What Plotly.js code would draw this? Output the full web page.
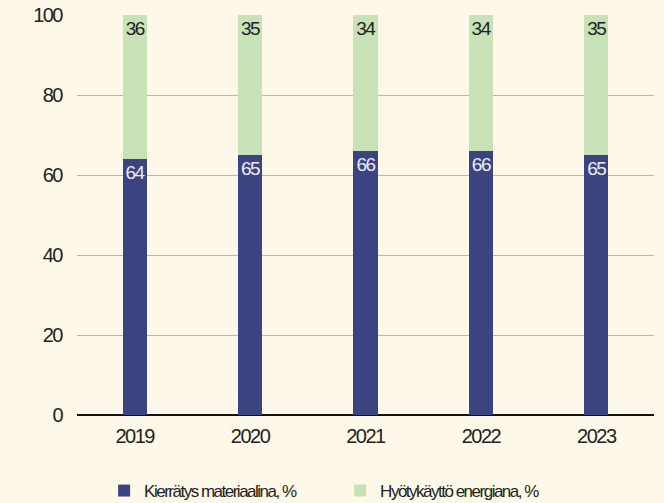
<!DOCTYPE html>
<html>
<head>
<meta charset="utf-8">
<script src="https://cdn.plot.ly/plotly-3.0.1.min.js"></script>
<style>
  html, body { margin: 0; padding: 0; background: #fdf8e7; }
  #chart { width: 664px; height: 503px; }
  /* tight, condensed-looking lettering */
  #chart .main-svg text { letter-spacing: -1.5px; }
  /* larger legend swatches: widen the swatch outline (same colour as fill) */
  #chart .legend .legendpoints path { stroke-width: 3px !important; }
</style>
</head>
<body>
<div id="chart"></div>
<script>
// Years on the x axis
const years = ['2019', '2020', '2021', '2022', '2023'];
// Share recycled as material, %
const materialShare = [64, 65, 66, 66, 65];
// Share recovered as energy, %
const energyShare = [36, 35, 34, 34, 35];
// Series names
const seriesNames = ['Kierrätys materiaalina, %', 'Hyötykäyttö energiana, %'];
// Y axis ticks
const yTicks = [0, 20, 40, 60, 80, 100];

const FONT = '"Liberation Sans", Arial, sans-serif';
const BLUE = '#3b4381';
const GREEN = '#c8e2b7';
const INK = '#222222';

const traces = [
  {
    type: 'bar',
    name: seriesNames[0],
    x: years,
    y: materialShare,
    text: materialShare.map(String),
    textposition: 'inside',
    insidetextanchor: 'end',
    textangle: 0,
    textfont: { family: FONT, size: 19, color: '#ecebf3' },
    marker: { color: BLUE, line: { color: BLUE, width: 0 } },
    hoverinfo: 'skip'
  },
  {
    type: 'bar',
    name: seriesNames[1],
    x: years,
    y: energyShare,
    text: energyShare.map(String),
    textposition: 'inside',
    insidetextanchor: 'end',
    textangle: 0,
    textfont: { family: FONT, size: 19, color: INK },
    marker: { color: GREEN, line: { color: GREEN, width: 0 } },
    hoverinfo: 'skip'
  }
];

const layout = {
  width: 664,
  height: 503,
  margin: { l: 77, r: 10, t: 15, b: 88, autoexpand: false },
  paper_bgcolor: '#fdf8e7',
  plot_bgcolor: '#fdf8e7',
  barmode: 'stack',
  bargap: 0.79,
  uniformtext: { mode: 'show', minsize: 19 },
  font: { family: FONT, size: 20, color: INK },
  showlegend: true,
  legend: {
    orientation: 'h',
    traceorder: 'normal',
    x: 0.047,
    xanchor: 'left',
    y: -0.145,
    yanchor: 'top',
    entrywidth: 191,
    entrywidthmode: 'pixels',
    font: { family: FONT, size: 17, color: INK },
    bgcolor: 'rgba(0,0,0,0)'
  },
  xaxis: {
    type: 'category',
    showgrid: false,
    zeroline: false,
    showline: false,
    ticks: '',
    ticklabelstandoff: 7,
    tickfont: { family: FONT, size: 20, color: INK },
    fixedrange: true
  },
  yaxis: {
    range: [0, 100],
    tickvals: yTicks,
    ticktext: yTicks.map(String),
    showgrid: true,
    gridcolor: '#bdb6a7',
    gridwidth: 1,
    zeroline: true,
    zerolinecolor: '#111111',
    zerolinewidth: 2,
    showline: false,
    ticks: '',
    ticklabelstandoff: 14,
    tickfont: { family: FONT, size: 20, color: INK },
    fixedrange: true
  }
};

Plotly.newPlot('chart', traces, layout, { displayModeBar: false, staticPlot: true });
</script>
</body>
</html>
